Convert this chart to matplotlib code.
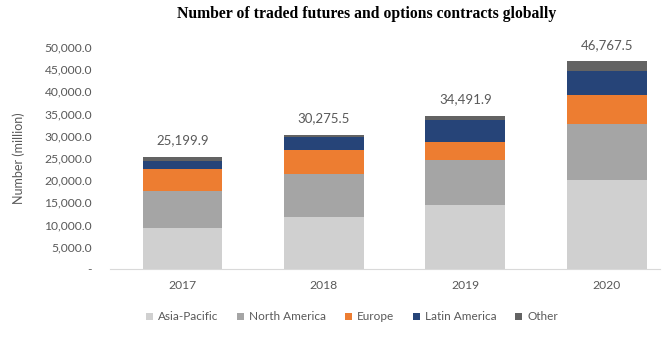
import numpy as np
import matplotlib.pyplot as plt
from matplotlib.ticker import FuncFormatter

years = ['2017', '2018', '2019', '2020']
regions = ['Asia-Pacific', 'North America', 'Europe', 'Latin America', 'Other']
asia_pacific = [9200, 11600, 14400, 19950]
north_america = [8350, 9900, 10050, 12750]
europe = [4900, 5300, 4200, 6400]
latin_america = [1950, 2900, 4850, 5500]
other = [799.9, 575.5, 991.9, 2167.5]
totals = [25199.9, 30275.5, 34491.9, 46767.5]

colors = ['#D0D0D0', '#A5A5A5', '#ED7D31', '#264478', '#636363']

plt.rcParams['font.family'] = ['Lato', 'DejaVu Sans']

fig = plt.figure(figsize=(6.66, 3.38), dpi=100)
ax = fig.add_axes([110 / 666, 69 / 338, 550 / 666, 222 / 338])

x = np.arange(len(years))
bottom = np.zeros(len(years))
for name, vals, c in zip(regions, [asia_pacific, north_america, europe, latin_america, other], colors):
    ax.bar(x, vals, width=0.565, bottom=bottom, color=c, label=name, zorder=2)
    bottom += np.array(vals)

for xi, t in zip(x, totals):
    ax.annotate('{:,.1f}'.format(t), (xi, t), xytext=(0, 12), textcoords='offset points',
                ha='center', va='center', fontsize=9.5, color='#595959')

ax.set_ylim(0, 50000)
ax.set_xlim(-0.513, 3.377)
ax.set_yticks(np.arange(0, 50001, 5000))
ax.yaxis.set_major_formatter(FuncFormatter(lambda v, p: '-' if v == 0 else '{:,.1f}'.format(v)))
ax.set_xticks(x)
ax.set_xticklabels(years)
ax.tick_params(axis='both', length=0, colors='#595959', labelsize=8.7)
ax.tick_params(axis='x', pad=8)
ax.tick_params(axis='y', pad=13)
for s in ['top', 'right', 'left']:
    ax.spines[s].set_visible(False)
ax.spines['bottom'].set_color('#D9D9D9')
ax.set_ylabel('Number (million)', fontsize=9, color='#595959', labelpad=14)

fig.text(367 / 666, 1 - 14 / 338, 'Number of traded futures and options contracts globally',
         ha='center', va='center', fontsize=11.3, fontweight='bold',
         family='Liberation Serif', color='black')

ax.legend(loc='center', bbox_to_anchor=(352 / 666, 21 / 338), bbox_transform=fig.transFigure,
          ncol=5, frameon=False, fontsize=8.5, handlelength=0.6, handleheight=0.6,
          handletextpad=0.4, columnspacing=1.6, labelcolor='#595959')

fig.savefig('out.png', dpi=100)
